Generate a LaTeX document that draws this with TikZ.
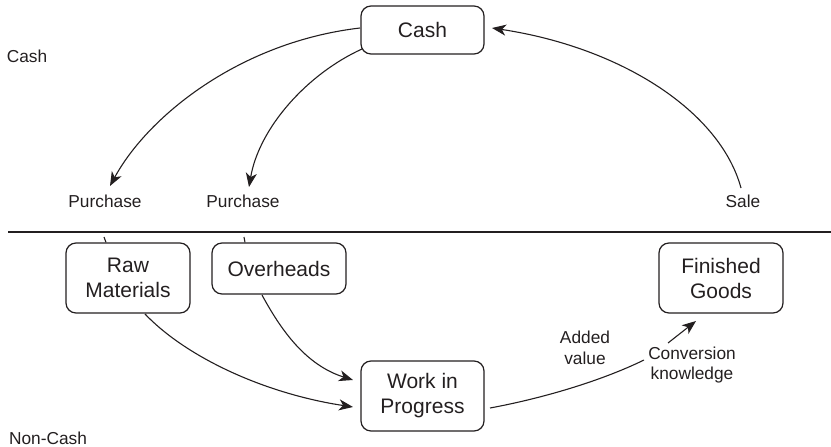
\documentclass[tikz,border=0pt]{standalone}
\usepackage{fontspec}
\setmainfont{Liberation Sans}
\usetikzlibrary{arrows.meta}
\definecolor{ink}{RGB}{35,31,32}
\tikzset{
  box/.style={draw=ink, line width=1.2pt, rounded corners=10pt, text=ink,
    align=center, inner sep=0pt, font=\fontsize{21}{25}\selectfont},
  lbl/.style={text=ink, align=center, inner sep=0pt,
    font=\fontsize{17.3}{20.5}\selectfont},
  flow/.style={draw=ink, line width=1.1pt,
    -{Stealth[length=14pt,width=11pt,inset=4pt]}},
  plain/.style={draw=ink, line width=1.1pt},
}
\begin{document}
\begin{tikzpicture}[x=1pt,y=-1pt]
  \useasboundingbox (0,0) rectangle (831,447);

  % cash / non-cash divide
  \draw[ink, line width=1.2pt] (8,232) -- (831,232);
  \node[lbl] (lcash) at (27,56) {Cash};
  \node[lbl] (lnoncash) at (48,438) {Non-Cash};

  % stocks
  \node[box, minimum width=123pt, minimum height=48pt] (cash) at (422.5,30) {Cash};
  \node[box, minimum width=124pt, minimum height=70pt] (raw) at (128,278) {Raw\\Materials};
  \node[box, minimum width=134pt, minimum height=51pt] (ovh) at (279,268.5) {Overheads};
  \node[box, minimum width=124pt, minimum height=70pt] (fin) at (721,278) {Finished\\Goods};
  \node[box, minimum width=123pt, minimum height=70pt] (wip) at (422.5,396) {Work in\\Progress};

  % flow labels
  \node[lbl] (pur1) at (105,201) {Purchase};
  \node[lbl] (pur2) at (243,201) {Purchase};
  \node[lbl] (sale) at (743,201) {Sale};
  \node[lbl] (added) at (585,348) {Added\\value};
  \node[lbl] (conv) at (692,365) {Conversion\\knowledge};

  % connector end points
  \coordinate (c1s) at (360,28);
  \coordinate (c1e) at (110,186);
  \coordinate (c2s) at (362,49);
  \coordinate (c2e) at (249,187);
  \coordinate (c3s) at (741,188);
  \coordinate (c3e) at (492,28);
  \coordinate (rawin) at (104,237);
  \coordinate (ovhin) at (244,237);
  \coordinate (r1s) at (145,314);
  \coordinate (r1e) at (353,407);
  \coordinate (o1s) at (262,295);
  \coordinate (o1e) at (353,380);
  \coordinate (w1s) at (490,408);
  \coordinate (w1e) at (644,360);
  \coordinate (k1s) at (668,343);
  \coordinate (k1e) at (696,321);

  % cash flows
  \draw[flow] (c1s) .. controls (240,42) and (148,116) .. (c1e);
  \draw[flow] (c2s) .. controls (307,74) and (259,128) .. (c2e);
  \draw[flow] (c3s) .. controls (720,111) and (621,47.5) .. (c3e);
  \draw[plain] (rawin) -- (raw.north -| 106,0);
  \draw[plain] (ovhin) -- (ovh.north -| 245,0);

  % production flows
  \draw[flow] (r1s) .. controls (186,357) and (264,393.5) .. (r1e);
  \draw[flow] (o1s) .. controls (281,330) and (305.5,365) .. (o1e);
  \draw[plain] (w1s) .. controls (539,399) and (599,382) .. (w1e);
  \draw[flow] (k1s) -- (k1e);
\end{tikzpicture}
\end{document}
